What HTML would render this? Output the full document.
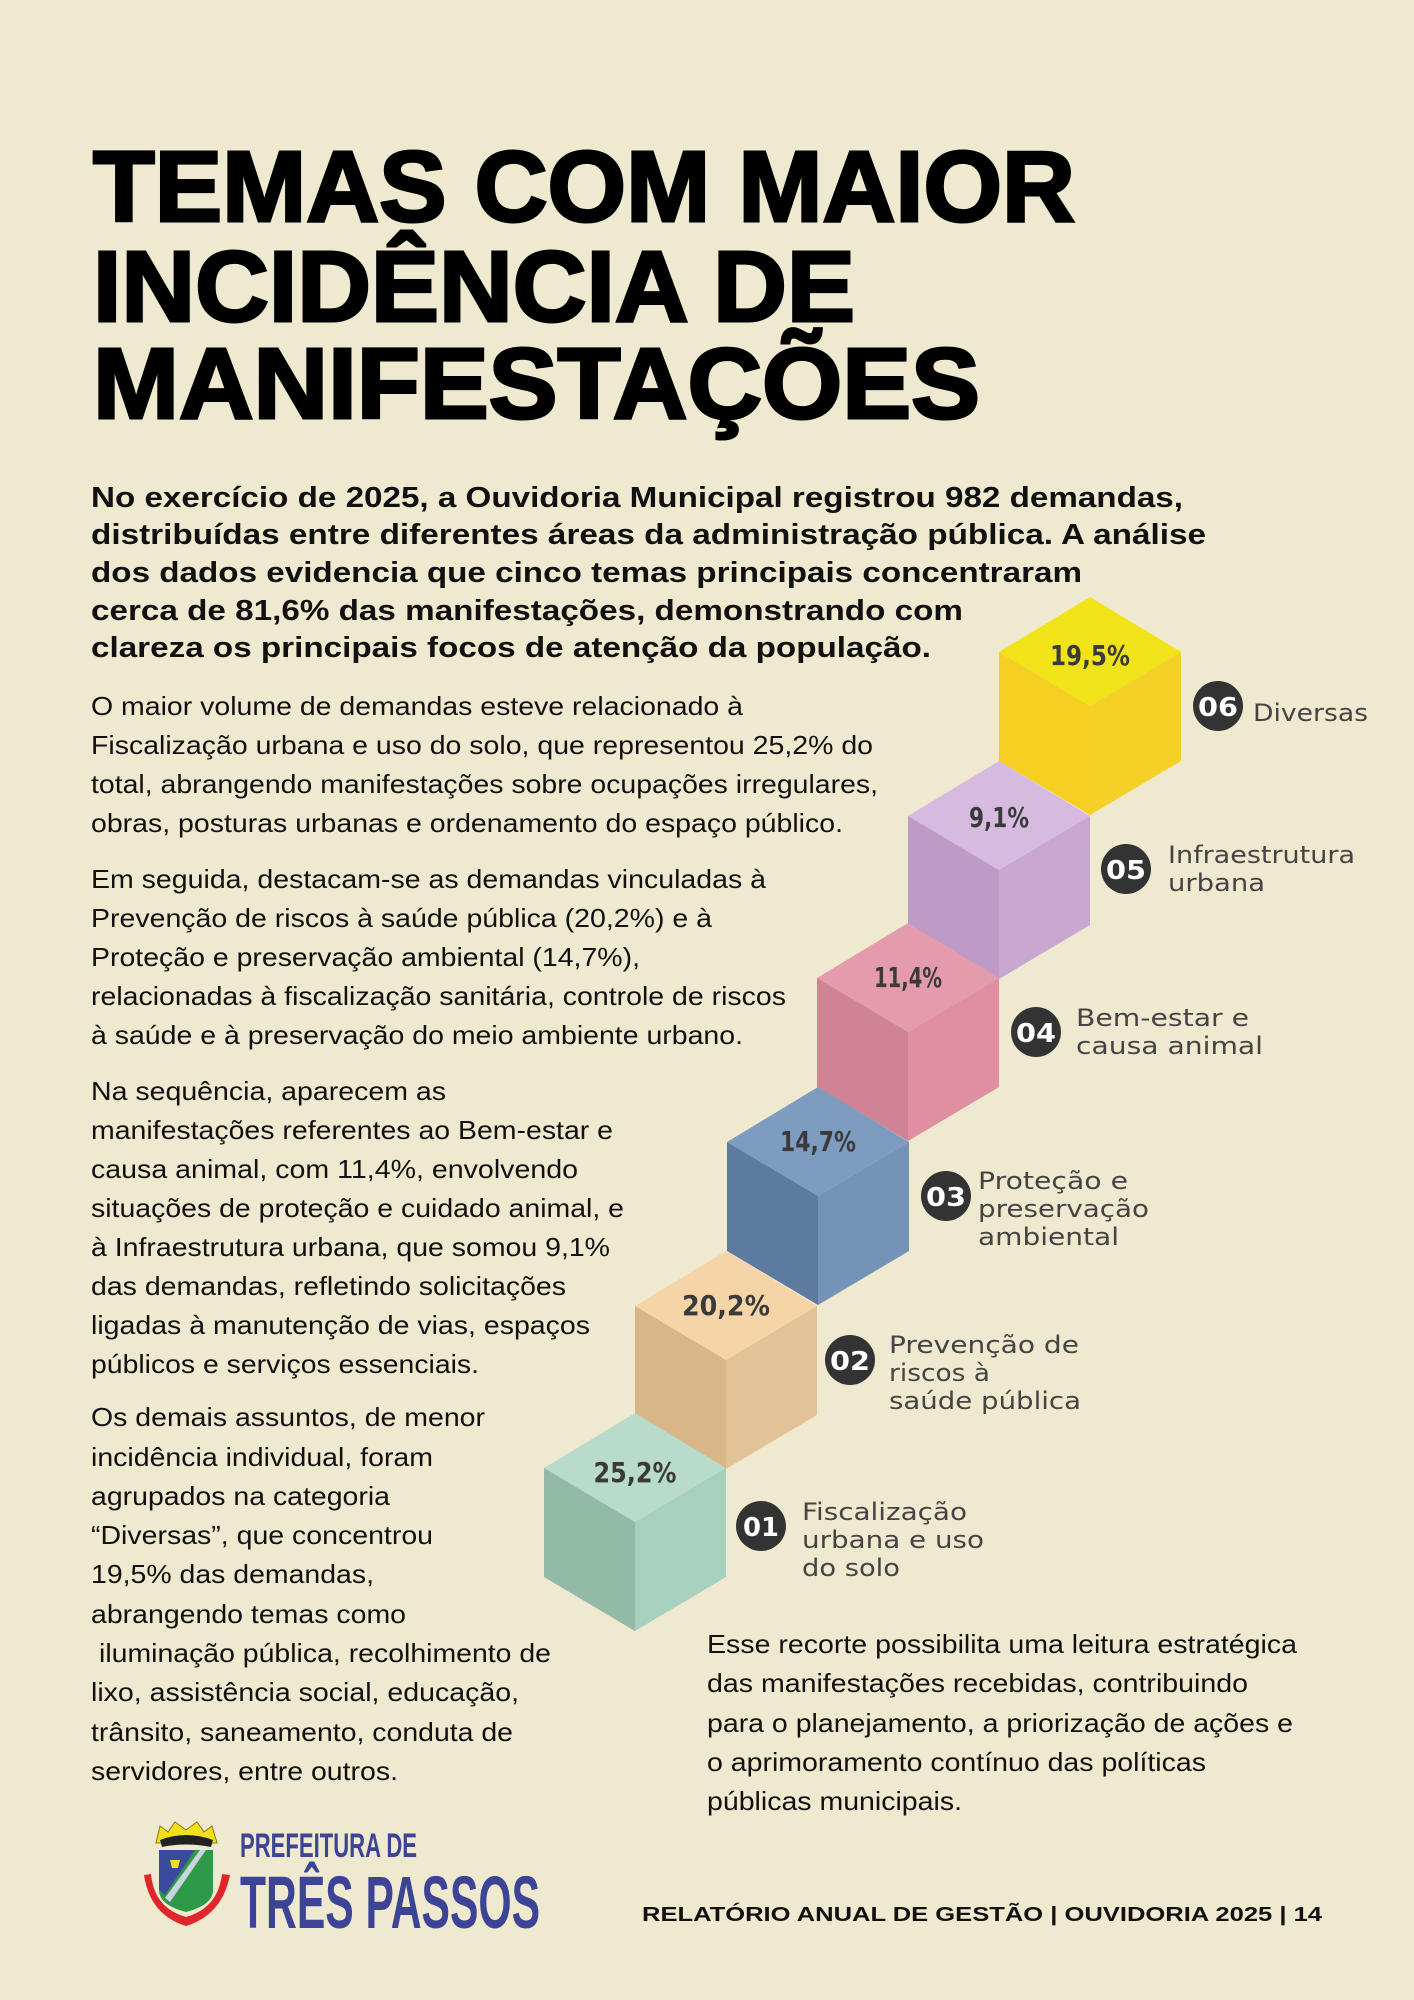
<!DOCTYPE html>
<html><head><meta charset="utf-8"><style>
html,body{margin:0;padding:0;background:#efe9cf;}
svg{display:block}
</style></head><body>
<svg width="1414" height="2000" viewBox="0 0 1414 2000" xmlns="http://www.w3.org/2000/svg">
<rect width="1414" height="2000" fill="#efe9cf"/>
<g font-family="Liberation Sans, sans-serif" font-weight="bold" font-size="100" fill="#000" stroke="#000" stroke-width="3">
<text x="93" y="221" textLength="982" lengthAdjust="spacingAndGlyphs">TEMAS COM MAIOR</text>
<text x="93" y="321" textLength="762" lengthAdjust="spacingAndGlyphs">INCIDÊNCIA DE</text>
<text x="93" y="418" textLength="887" lengthAdjust="spacingAndGlyphs">MANIFESTAÇÕES</text>
</g>
<g font-family="Liberation Sans, sans-serif" font-weight="bold" font-size="29" fill="#111">
<text x="91" y="507" textLength="1092" lengthAdjust="spacingAndGlyphs">No exercício de 2025, a Ouvidoria Municipal registrou 982 demandas,</text>
<text x="91" y="544" textLength="1115" lengthAdjust="spacingAndGlyphs">distribuídas entre diferentes áreas da administração pública. A análise</text>
<text x="91" y="582" textLength="991" lengthAdjust="spacingAndGlyphs">dos dados evidencia que cinco temas principais concentraram</text>
<text x="91" y="620" textLength="872" lengthAdjust="spacingAndGlyphs">cerca de 81,6% das manifestações, demonstrando com</text>
<text x="91" y="657" textLength="840" lengthAdjust="spacingAndGlyphs">clareza os principais focos de atenção da população.</text>
</g>
<g font-family="Liberation Sans, sans-serif" font-size="26" fill="#111" lengthAdjust="spacingAndGlyphs">
<text x="91" y="715" textLength="652" lengthAdjust="spacingAndGlyphs">O maior volume de demandas esteve relacionado à</text>
<text x="91" y="754" textLength="782" lengthAdjust="spacingAndGlyphs">Fiscalização urbana e uso do solo, que representou 25,2% do</text>
<text x="91" y="793" textLength="787" lengthAdjust="spacingAndGlyphs">total, abrangendo manifestações sobre ocupações irregulares,</text>
<text x="91" y="832" textLength="752" lengthAdjust="spacingAndGlyphs">obras, posturas urbanas e ordenamento do espaço público.</text>
<text x="91" y="888" textLength="675" lengthAdjust="spacingAndGlyphs">Em seguida, destacam-se as demandas vinculadas à</text>
<text x="91" y="927" textLength="621" lengthAdjust="spacingAndGlyphs">Prevenção de riscos à saúde pública (20,2%) e à</text>
<text x="91" y="966" textLength="549" lengthAdjust="spacingAndGlyphs">Proteção e preservação ambiental (14,7%),</text>
<text x="91" y="1005" textLength="695" lengthAdjust="spacingAndGlyphs">relacionadas à fiscalização sanitária, controle de riscos</text>
<text x="91" y="1044" textLength="652" lengthAdjust="spacingAndGlyphs">à saúde e à preservação do meio ambiente urbano.</text>
<text x="91" y="1100" textLength="355" lengthAdjust="spacingAndGlyphs">Na sequência, aparecem as</text>
<text x="91" y="1139" textLength="522" lengthAdjust="spacingAndGlyphs">manifestações referentes ao Bem-estar e</text>
<text x="91" y="1178" textLength="487" lengthAdjust="spacingAndGlyphs">causa animal, com 11,4%, envolvendo</text>
<text x="91" y="1217" textLength="533" lengthAdjust="spacingAndGlyphs">situações de proteção e cuidado animal, e</text>
<text x="91" y="1256" textLength="519" lengthAdjust="spacingAndGlyphs">à Infraestrutura urbana, que somou 9,1%</text>
<text x="91" y="1295" textLength="475" lengthAdjust="spacingAndGlyphs">das demandas, refletindo solicitações</text>
<text x="91" y="1334" textLength="499" lengthAdjust="spacingAndGlyphs">ligadas à manutenção de vias, espaços</text>
<text x="91" y="1373" textLength="388" lengthAdjust="spacingAndGlyphs">públicos e serviços essenciais.</text>
<text x="91" y="1426" textLength="394" lengthAdjust="spacingAndGlyphs">Os demais assuntos, de menor</text>
<text x="91" y="1466" textLength="342" lengthAdjust="spacingAndGlyphs">incidência individual, foram</text>
<text x="91" y="1505" textLength="299" lengthAdjust="spacingAndGlyphs">agrupados na categoria</text>
<text x="91" y="1544" textLength="342" lengthAdjust="spacingAndGlyphs">“Diversas”, que concentrou</text>
<text x="91" y="1583" textLength="283" lengthAdjust="spacingAndGlyphs">19,5% das demandas,</text>
<text x="91" y="1623" textLength="315" lengthAdjust="spacingAndGlyphs">abrangendo temas como</text>
<text x="99" y="1662" textLength="452" lengthAdjust="spacingAndGlyphs">iluminação pública, recolhimento de</text>
<text x="91" y="1701" textLength="428" lengthAdjust="spacingAndGlyphs">lixo, assistência social, educação,</text>
<text x="91" y="1741" textLength="422" lengthAdjust="spacingAndGlyphs">trânsito, saneamento, conduta de</text>
<text x="91" y="1780" textLength="307" lengthAdjust="spacingAndGlyphs">servidores, entre outros.</text>
<text x="707" y="1653" textLength="590" lengthAdjust="spacingAndGlyphs">Esse recorte possibilita uma leitura estratégica</text>
<text x="707" y="1692" textLength="541" lengthAdjust="spacingAndGlyphs">das manifestações recebidas, contribuindo</text>
<text x="707" y="1732" textLength="586" lengthAdjust="spacingAndGlyphs">para o planejamento, a priorização de ações e</text>
<text x="707" y="1771" textLength="499" lengthAdjust="spacingAndGlyphs">o aprimoramento contínuo das políticas</text>
<text x="707" y="1810" textLength="255" lengthAdjust="spacingAndGlyphs">públicas municipais.</text>
</g>

<!-- cubes: T(x,y); top, left, right -->
<g id="cubes">
<!-- 06 -->
<g transform="translate(1090,597)">
<polygon points="0,0 91,55 0,109 -91,55" fill="#f0e418"/>
<polygon points="-91,55 0,109 0,218 -91,164" fill="#f5cf22"/>
<polygon points="0,109 91,55 91,164 0,218" fill="#f5d128"/>
</g>
<!-- 05 -->
<g transform="translate(999,761)">
<polygon points="0,0 91,55 0,109 -91,55" fill="#d6badf"/>
<polygon points="-91,55 0,109 0,218 -91,164" fill="#bd9bc6"/>
<polygon points="0,109 91,55 91,164 0,218" fill="#c8a8d0"/>
</g>
<!-- 04 -->
<g transform="translate(908,923)">
<polygon points="0,0 91,55 0,109 -91,55" fill="#e49bab"/>
<polygon points="-91,55 0,109 0,218 -91,164" fill="#cf8393"/>
<polygon points="0,109 91,55 91,164 0,218" fill="#df8fa0"/>
</g>
<!-- 03 -->
<g transform="translate(818,1087)">
<polygon points="0,0 91,55 0,109 -91,55" fill="#7e9cc0"/>
<polygon points="-91,55 0,109 0,218 -91,164" fill="#5d7a9f"/>
<polygon points="0,109 91,55 91,164 0,218" fill="#7592b7"/>
</g>
<!-- 02 -->
<g transform="translate(726,1251)">
<polygon points="0,0 91,55 0,109 -91,55" fill="#f5d5a8"/>
<polygon points="-91,55 0,109 0,218 -91,164" fill="#d9b688"/>
<polygon points="0,109 91,55 91,164 0,218" fill="#e2c398"/>
</g>
<!-- 01 -->
<g transform="translate(635,1413)">
<polygon points="0,0 91,55 0,109 -91,55" fill="#b8dbcc"/>
<polygon points="-91,55 0,109 0,218 -91,164" fill="#93b9a7"/>
<polygon points="0,109 91,55 91,164 0,218" fill="#a8d0be"/>
</g>
</g>

<g font-family="DejaVu Sans, sans-serif" font-weight="bold" font-size="28" fill="#3a3a3a" text-anchor="middle">
<text x="1090" y="665" textLength="80" lengthAdjust="spacingAndGlyphs">19,5%</text>
<text x="999" y="827" textLength="60" lengthAdjust="spacingAndGlyphs">9,1%</text>
<text x="908" y="987" textLength="68" lengthAdjust="spacingAndGlyphs">11,4%</text>
<text x="818" y="1151" textLength="76" lengthAdjust="spacingAndGlyphs">14,7%</text>
<text x="726" y="1315" textLength="88" lengthAdjust="spacingAndGlyphs">20,2%</text>
<text x="635" y="1482" textLength="83" lengthAdjust="spacingAndGlyphs">25,2%</text>
</g>

<g fill="#333">
<circle cx="1218" cy="706" r="25"/>
<circle cx="1126" cy="869" r="25"/>
<circle cx="1036" cy="1032" r="25"/>
<circle cx="946" cy="1196" r="25"/>
<circle cx="850" cy="1360" r="25"/>
<circle cx="761" cy="1526" r="25"/>
</g>
<g font-family="DejaVu Sans, sans-serif" font-weight="bold" font-size="26" fill="#fff" text-anchor="middle">
<text x="1218" y="716" textLength="40" lengthAdjust="spacingAndGlyphs">06</text>
<text x="1126" y="879" textLength="40" lengthAdjust="spacingAndGlyphs">05</text>
<text x="1036" y="1042" textLength="40" lengthAdjust="spacingAndGlyphs">04</text>
<text x="946" y="1206" textLength="40" lengthAdjust="spacingAndGlyphs">03</text>
<text x="850" y="1370" textLength="40" lengthAdjust="spacingAndGlyphs">02</text>
<text x="761" y="1536" textLength="36" lengthAdjust="spacingAndGlyphs">01</text>
</g>
<g font-family="DejaVu Sans, sans-serif" font-size="24" fill="#444">
<text x="1253" y="721" textLength="115" lengthAdjust="spacingAndGlyphs">Diversas</text>
<text x="1168" y="863" textLength="187" lengthAdjust="spacingAndGlyphs">Infraestrutura</text>
<text x="1168" y="891" textLength="97" lengthAdjust="spacingAndGlyphs">urbana</text>
<text x="1076" y="1026" textLength="173" lengthAdjust="spacingAndGlyphs">Bem-estar e</text>
<text x="1076" y="1054" textLength="187" lengthAdjust="spacingAndGlyphs">causa animal</text>
<text x="978" y="1189" textLength="150" lengthAdjust="spacingAndGlyphs">Proteção e</text>
<text x="978" y="1217" textLength="171" lengthAdjust="spacingAndGlyphs">preservação</text>
<text x="978" y="1245" textLength="141" lengthAdjust="spacingAndGlyphs">ambiental</text>
<text x="889" y="1353" textLength="190" lengthAdjust="spacingAndGlyphs">Prevenção de</text>
<text x="889" y="1381" textLength="101" lengthAdjust="spacingAndGlyphs">riscos à</text>
<text x="889" y="1409" textLength="192" lengthAdjust="spacingAndGlyphs">saúde pública</text>
<text x="802" y="1520" textLength="165" lengthAdjust="spacingAndGlyphs">Fiscalização</text>
<text x="802" y="1548" textLength="182" lengthAdjust="spacingAndGlyphs">urbana e uso</text>
<text x="802" y="1576" textLength="98" lengthAdjust="spacingAndGlyphs">do solo</text>
</g>

<!-- logo -->
<g>
<path d="M156,1843 L160,1826 L168,1832 L175,1822 L186,1830 L197,1822 L204,1832 L212,1826 L217,1843 Z" fill="#f2e01c" stroke="#8a7a10" stroke-width="1"/>
<path d="M160,1840 Q186,1830 213,1840 L211,1847 Q186,1842 162,1847 Z" fill="#222"/>
<path d="M144,1875 Q150,1915 186,1926 Q222,1915 230,1875 L222,1874 Q218,1908 186,1917 Q154,1908 151,1874 Z" fill="#e0262a"/>
<path d="M159,1850 L213,1850 L213,1890 Q213,1905 186,1912 Q159,1905 159,1890 Z" fill="#2e9a48"/>
<path d="M159,1850 L195,1850 L165,1895 L159,1890 Z" fill="#3a4a9c"/>
<path d="M200,1850 L206,1850 L170,1902 L165,1898 Z" fill="#c9d4dc"/>
<path d="M170,1860 L180,1860 L178,1868 L172,1868 Z" fill="#f2e01c"/>
<text x="240" y="1857" font-family="Liberation Sans, sans-serif" font-weight="bold" font-size="34" fill="#3d4496" textLength="177" lengthAdjust="spacingAndGlyphs">PREFEITURA DE</text>
<text x="240" y="1928" font-family="Liberation Sans, sans-serif" font-weight="bold" font-size="74" fill="#3d4496" textLength="300" lengthAdjust="spacingAndGlyphs">TRÊS PASSOS</text>
</g>

<text x="642" y="1921" font-family="Liberation Sans, sans-serif" font-weight="bold" font-size="20" fill="#111" textLength="680" lengthAdjust="spacingAndGlyphs">RELATÓRIO ANUAL DE GESTÃO | OUVIDORIA 2025 | 14</text>
</svg>
</body></html>
